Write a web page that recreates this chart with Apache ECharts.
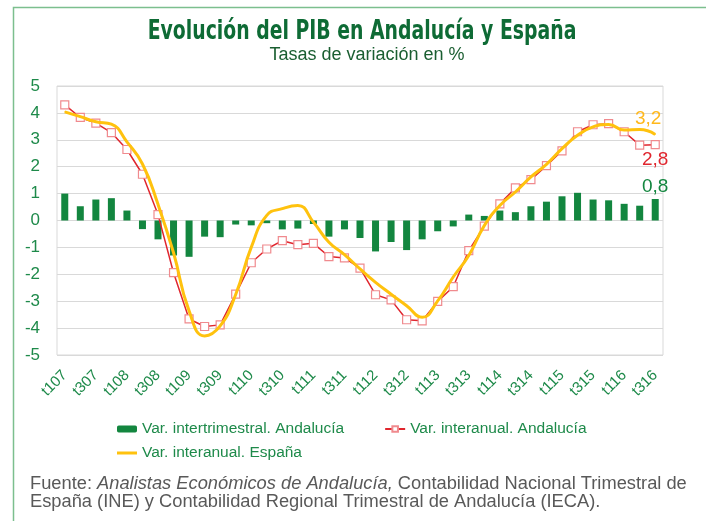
<!DOCTYPE html>
<html>
<head>
<meta charset="utf-8">
<script src="https://cdn.jsdelivr.net/npm/echarts@6/dist/echarts.min.js"></script>
<style>
html,body{margin:0;padding:0;background:#fff;}
#chart{width:706px;height:521px;}
</style>
</head>
<body>
<div id="chart"></div>
<script>
var categories = ['t107','t207','t307','t407','t108','t208','t308','t408','t109','t209','t309','t409',
  't110','t210','t310','t410','t111','t211','t311','t411','t112','t212','t312','t412',
  't113','t213','t313','t413','t114','t214','t314','t414','t115','t215','t315','t415',
  't116','t216','t316'];
var yTicks = [-5,-4,-3,-2,-1,0,1,2,3,4,5];
var intertrimestralAnd = [1.0,0.53,0.78,0.83,0.37,-0.32,-0.7,-1.3,-1.35,-0.6,-0.62,-0.15,
  -0.18,-0.1,-0.33,-0.3,-0.13,-0.6,-0.33,-0.65,-1.15,-0.8,-1.1,-0.7,
  -0.4,-0.22,0.22,0.17,0.37,0.31,0.53,0.7,0.9,1.03,0.78,0.75,
  0.62,0.55,0.8];
var interanualAnd = [4.3,3.83,3.62,3.27,2.64,1.72,0.22,-1.94,-3.66,-3.94,-3.88,-2.74,
  -1.57,-1.06,-0.75,-0.9,-0.85,-1.34,-1.39,-1.77,-2.76,-2.95,-3.69,-3.73,
  -3.01,-2.46,-1.12,-0.21,0.62,1.21,1.52,2.04,2.59,3.3,3.56,3.6,
  3.3,2.8,2.82];
var interanualEsp = [4.04,3.86,3.67,3.58,2.92,2.1,0.6,-1.2,-3.36,-4.29,-3.92,-2.75,
  -1.0,0.19,0.44,0.56,-0.06,-0.81,-1.27,-1.8,-2.3,-2.74,-3.17,-3.6,
  -2.99,-2.1,-1.3,-0.19,0.56,1.06,1.62,2.09,2.67,3.17,3.48,3.57,
  3.36,3.38,3.2];
var seriesNames = ['Var. intertrimestral. Andalucía','Var. interanual. Andalucía','Var. interanual. España'];

var GREEN = '#13863F', RED = '#E0262E', YELLOW = '#FFC20E';
var TXT = '#1E8A4A';
var FONT = 'Liberation Sans, Arial, sans-serif';
function fmt(v){ return v.toFixed(1).replace('.', ','); }
function withEndLabel(arr, labelCfg){
  return arr.map(function(v,i){
    if(i === arr.length-1){
      return {value:v, label: Object.assign({show:true, formatter: function(p){return fmt(p.value);}}, labelCfg)};
    }
    return v;
  });
}

var chart = echarts.init(document.getElementById('chart'), null, {renderer:'canvas'});
var option = {
  animation:false,
  backgroundColor:'#ffffff',
  title:[
    {text:'Tasas de variación en %', left:362, top:41, textAlign:'center',
     textStyle:{fontFamily:FONT, fontWeight:'normal', fontSize:18, color:'#1A5E31'}}
  ],
  legend:[
    {data:[seriesNames[0], seriesNames[1]], left:117, top:421, itemWidth:20, itemHeight:7, itemGap:40, padding:0,
     textStyle:{fontFamily:FONT, fontSize:15.5, color:TXT}},
    {data:[{name:seriesNames[2], icon:'rect', itemStyle:{color:YELLOW, opacity:1}}], left:117, top:445, itemWidth:20, itemHeight:3, padding:0,
     textStyle:{fontFamily:FONT, fontSize:15.5, color:TXT}}
  ],
  grid:{left:57, right:43, top:86, bottom:166, show:true, borderColor:'#D9D9D9', borderWidth:1, containLabel:false},
  xAxis:{type:'category', data:categories, boundaryGap:true,
    axisLine:{show:false}, axisTick:{show:false},
    axisLabel:{interval:1, rotate:45, margin:18, fontFamily:FONT, fontSize:15, color:TXT}},
  yAxis:{type:'value', min:yTicks[0], max:yTicks[yTicks.length-1], interval:1,
    axisLine:{show:false}, axisTick:{show:false},
    splitLine:{lineStyle:{color:'#D9D9D9', width:1}},
    axisLabel:{margin:17, fontFamily:FONT, fontSize:17, color:TXT}},
  series:[
    {name:seriesNames[0], type:'bar', barWidth:7, itemStyle:{color:GREEN}, z:1,
     data: withEndLabel(intertrimestralAnd, {position:'top', distance:3, color:GREEN, fontSize:19, fontFamily:FONT})},
    {name:seriesNames[1], type:'line', symbol:'rect', symbolSize:8, showAllSymbol:true,
     lineStyle:{color:RED, width:1.5}, itemStyle:{color:'#ffffff', borderColor:'#F08A8E', borderWidth:1.2}, z:3,
     data: withEndLabel(interanualAnd, {position:'bottom', distance:1, color:RED, fontSize:19, fontFamily:FONT})},
    {name:seriesNames[2], type:'line', smooth:true, symbol:'circle', symbolSize:1, showSymbol:true, showAllSymbol:true,
     lineStyle:{color:YELLOW, width:3}, itemStyle:{color:YELLOW}, z:4,
     data: withEndLabel(interanualEsp, {position:'top', distance:6, offset:[-7,0], color:'#FFB81C', fontSize:19, fontFamily:FONT})}
  ],
  graphic:[
    {type:'polyline', shape:{points:[[13.5,521],[13.5,7.5],[706,7.5]]}, style:{fill:null, stroke:'#7CBF8E', lineWidth:1.5}, silent:true},
    {type:'text', x:362, y:32, scaleX:0.806, style:{
      text:'Evolución del PIB en Andalucía y España', align:'center', verticalAlign:'middle',
      font:'bold 26px "DejaVu Sans Condensed", "Liberation Sans Narrow", sans-serif', fill:'#0E6B35'}},
    {type:'text', left:30, top:475, style:{
      text:'{a|Fuente: }{b|Analistas Económicos de Andalucía,}{a| Contabilidad Nacional Trimestral de}\n{a|España (INE) y Contabilidad Regional Trimestral de Andalucía (IECA).}',
      rich:{
        a:{fontFamily:FONT, fontSize:18.3, fill:'#595959', lineHeight:18},
        b:{fontFamily:FONT, fontSize:18.3, fontStyle:'italic', fill:'#595959', lineHeight:18}
      }}}
  ]
};
chart.setOption(option);
</script>
</body>
</html>
